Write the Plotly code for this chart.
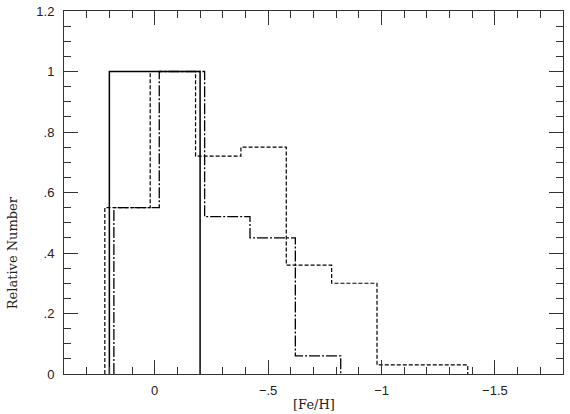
import plotly.graph_objects as go

# Histogram bin edges ([Fe/H]) and relative numbers
solid_edges = [0.20, -0.20]
solid_vals = [1.0]

dash_edges = [0.22, 0.02, -0.18, -0.38, -0.58, -0.78, -0.98, -1.18, -1.38]
dash_vals = [0.55, 1.0, 0.72, 0.75, 0.36, 0.30, 0.03, 0.03]

ldd_edges = [0.18, -0.02, -0.22, -0.42, -0.62, -0.82]
ldd_vals = [0.55, 1.0, 0.52, 0.45, 0.06]

x_tickvals = [0, -0.5, -1, -1.5]
x_ticktext = ["0", "\u2212.5", "\u22121", "\u22121.5"]
y_tickvals = [0, 0.2, 0.4, 0.6, 0.8, 1.0, 1.2]
y_ticktext = ["0", ".2", ".4", ".6", ".8", "1", "1.2"]


def step_xy(edges, vals):
    xs = [edges[0]] + list(edges)
    ys = [0] + list(vals) + [0]
    return xs, ys


fig = go.Figure()
for edges, vals, dash, width in [
    (dash_edges, dash_vals, "4px,2px", 1.2),
    (ldd_edges, ldd_vals, "11px,2px,2px,2px", 1.3),
    (solid_edges, solid_vals, "solid", 1.5),
]:
    xs, ys = step_xy(edges, vals)
    fig.add_trace(go.Scatter(
        x=xs, y=ys, mode="lines", line_shape="hv",
        line=dict(color="black", width=width, dash=dash),
        showlegend=False, hoverinfo="skip",
    ))

axis_common = dict(
    showgrid=False, zeroline=False, showline=True, linecolor="#333",
    linewidth=1, mirror="allticks", ticks="inside", ticklen=14,
    tickcolor="#333", tickwidth=1, automargin=False,
    tickfont=dict(family="Liberation Sans", size=13, color="#222"),
)

fig.update_xaxes(
    range=[0.4, -1.8], tickmode="array", tickvals=x_tickvals,
    ticktext=x_ticktext, ticklabelstandoff=4,
    minor=dict(ticks="inside", dtick=0.1, tick0=0, ticklen=7,
               tickcolor="#333", tickwidth=1),
    **axis_common,
)
fig.update_yaxes(
    range=[0, 1.2], tickmode="array", tickvals=y_tickvals,
    ticktext=y_ticktext, ticklabelstandoff=6,
    minor=dict(ticks="inside", dtick=0.05, tick0=0, ticklen=7,
               tickcolor="#333", tickwidth=1),
    **axis_common,
)

fig.add_annotation(
    text="Relative Number", xref="paper", yref="paper",
    x=-0.104, y=0.333, xanchor="center", yanchor="middle",
    textangle=-90, showarrow=False,
    font=dict(family="DejaVu Serif", size=13, color="#222"),
)
fig.add_annotation(
    text="[Fe/H]", xref="paper", yref="paper",
    x=0.5, y=-0.083, xanchor="center", yanchor="middle",
    showarrow=False,
    font=dict(family="DejaVu Serif", size=13, color="#222"),
)

fig.update_layout(
    width=570, height=414,
    margin=dict(l=64, r=7, t=11, b=40),
    paper_bgcolor="white", plot_bgcolor="white",
)

fig.write_html(
    "out.html",
    config={"displayModeBar": False},
    post_script="document.body.style.margin='0';document.body.style.padding='0';",
)
